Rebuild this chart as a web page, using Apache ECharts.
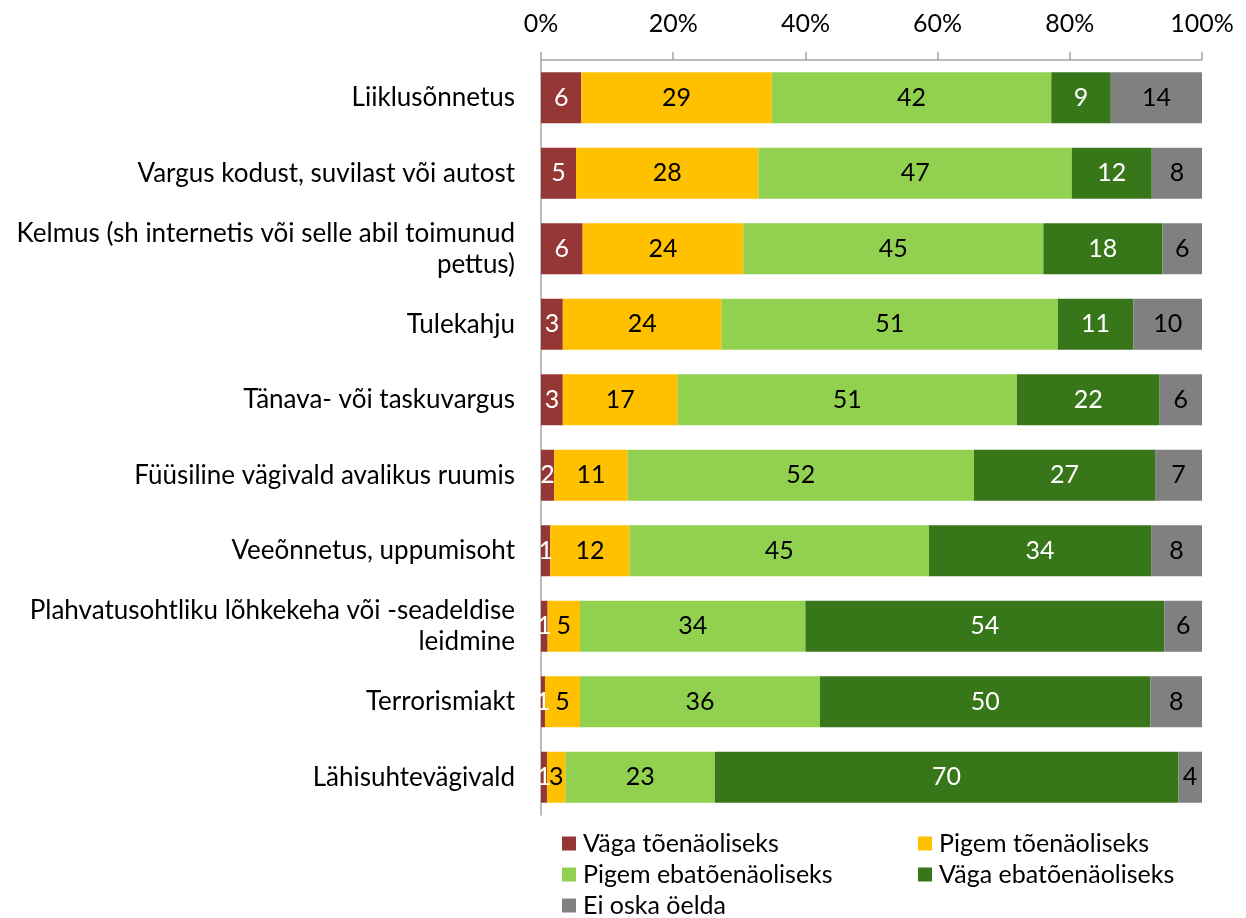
<!DOCTYPE html>
<html><head><meta charset="utf-8">
<script src="https://cdn.jsdelivr.net/npm/echarts@6/dist/echarts.min.js"></script>
<style>html,body{margin:0;padding:0;background:#fff}#c{width:1246px;height:918px}</style>
</head><body><div id="c"></div>
<script>
const categories = [
  'Liiklusõnnetus',
  'Vargus kodust, suvilast või autost',
  'Kelmus (sh internetis või selle abil toimunud\npettus)',
  'Tulekahju',
  'Tänava- või taskuvargus',
  'Füüsiline vägivald avalikus ruumis',
  'Veeõnnetus, uppumisoht',
  'Plahvatusohtliku lõhkekeha või -seadeldise\nleidmine',
  'Terrorismiakt',
  'Lähisuhtevägivald'
];
const seriesNames = ['Väga tõenäoliseks','Pigem tõenäoliseks','Pigem ebatõenäoliseks','Väga ebatõenäoliseks','Ei oska öelda'];
const vagaToen   = [6.1, 5.3, 6.3, 3.3, 3.3, 2.0, 1.4, 1.0, 0.6, 0.9];
const pigemToen  = [28.8, 27.6, 24.3, 24.0, 17.4, 11.1, 12.0, 4.9, 5.3, 2.8];
const pigemEba   = [42.3, 47.4, 45.4, 50.9, 51.3, 52.4, 45.3, 34.1, 36.3, 22.6];
const vagaEba    = [9.0, 12.1, 18.0, 11.4, 21.6, 27.4, 33.6, 54.3, 50.0, 70.1];
const eiOska     = [13.9, 7.6, 6.0, 10.4, 6.4, 7.1, 7.7, 5.7, 7.8, 3.6];
const xTicks = [0, 20, 40, 60, 80, 100];

const colors = ['#953735','#FFC000','#92D050','#38761A','#808080'];
const labelColors = ['#fff','#000','#000','#fff','#000'];
const dataSets = [vagaToen, pigemToen, pigemEba, vagaEba, eiOska];
const FONT = 'Lato, "Open Sans", sans-serif';
const FS = 25;

// legend placement: [left, top] per series
const legendPos = [[562, 831], [918, 831], [562, 862], [918, 862], [562, 893]];

const chart = echarts.init(document.getElementById('c'));
chart.setOption({
  animation: false,
  textStyle: { fontFamily: FONT },
  grid: { left: 541, right: 44, top: 60, bottom: 103, containLabel: false },
  xAxis: {
    type: 'value', position: 'top', min: 0, max: 100, interval: 20,
    axisLine: { show: true, lineStyle: { color: '#a6a6a6', width: 1.5 } },
    axisTick: { show: true, length: 8, lineStyle: { color: '#a6a6a6', width: 1.5 } },
    splitLine: { show: false },
    axisLabel: { color: '#000', fontSize: FS, fontFamily: FONT, margin: 24,
      formatter: v => xTicks.includes(v) ? v + '%' : '' }
  },
  yAxis: {
    type: 'category', inverse: true, data: categories,
    axisLine: { show: true, lineStyle: { color: '#a6a6a6', width: 1.5 } },
    axisTick: { show: false },
    axisLabel: { color: '#000', fontSize: 26, fontFamily: FONT, margin: 26, lineHeight: 31, align: 'right' }
  },
  legend: seriesNames.map((name, i) => ({
    left: legendPos[i][0], top: legendPos[i][1], itemWidth: 14, itemHeight: 14, icon: 'rect', padding: 0,
    data: [name], selectedMode: false,
    textStyle: { fontSize: FS, color: '#000', fontFamily: FONT, padding: [0, 0, 0, 2] }
  })),
  series: seriesNames.map((name, i) => ({
    name, type: 'bar', stack: 'total', barWidth: 51,
    itemStyle: { color: colors[i] },
    label: { show: true, position: 'inside', color: labelColors[i], fontSize: FS, fontFamily: FONT,
      formatter: p => Math.round(p.value) },
    data: dataSets[i]
  }))
});
</script></body></html>
